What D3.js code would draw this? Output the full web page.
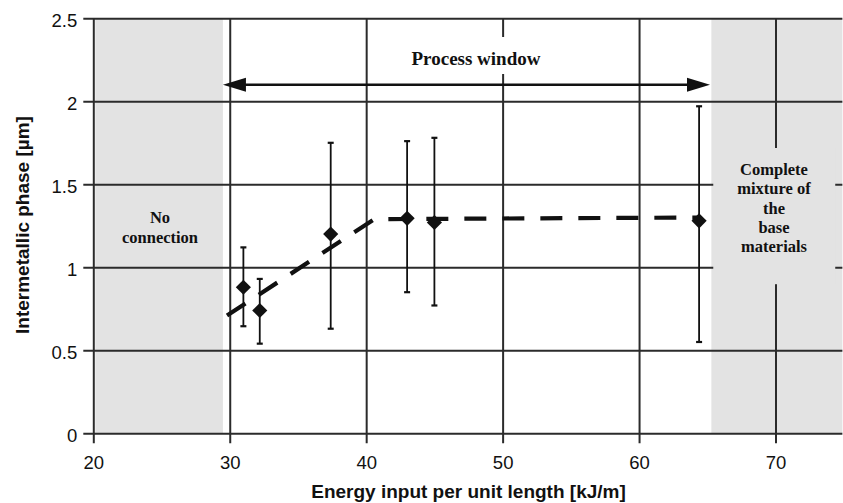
<!DOCTYPE html>
<html><head><meta charset="utf-8">
<script src="https://cdn.jsdelivr.net/npm/d3@7"></script>
<style>body{margin:0;background:#fff}svg{display:block}</style>
</head><body><svg id="c" width="843" height="503"></svg>
<script>
// ---- data ----
const xTicks = [20, 30, 40, 50, 60, 70];
const yTicks = [0, 0.5, 1, 1.5, 2, 2.5];
const energy = [31.0, 32.2, 37.4, 43.0, 45.0, 64.4];
const phase = [0.88, 0.74, 1.20, 1.295, 1.27, 1.28];
const errLow = [0.645, 0.54, 0.63, 0.85, 0.77, 0.55];
const errHigh = [1.12, 0.93, 1.75, 1.76, 1.78, 1.97];
const fitX = [29.8, 40.6, 64.5];
const fitY = [0.71, 1.29, 1.30];
const regionFrom = [20, 65.3];
const regionTo = [29.5, 74.9];
const xMin = 20, xMax = 74.9, yMin = 0, yMax = 2.5;
const windowFrom = 29.5, windowTo = 65.2, windowY = 2.1;
const windowLabel = "Process window";
const leftLabel = ["No", "connection"];
const rightLabel = ["Complete", "mixture of", "the", "base", "materials"];
const xTitle = "Energy input per unit length [kJ/m]";
const yTitle = "Intermetallic phase [µm]";

// ---- scales ----
const x = d3.scaleLinear().domain([20, 70]).range([93.3, 775.5]);
const y = d3.scaleLinear().domain([0, 2.5]).range([433.3, 18.3]);
const svg = d3.select("#c");
const gridColor = "#2b2b2b";

// gray regions
svg.selectAll("rect.region").data(regionFrom).enter().append("rect")
  .attr("class", "region")
  .attr("x", (d, i) => x(d) + (i === 0 ? 2 : 0))
  .attr("width", (d, i) => x(regionTo[i]) - x(d) - (i === 0 ? 2 : 0))
  .attr("y", y(yMax))
  .attr("height", y(yMin) - y(yMax))
  .attr("fill", "#e3e3e3");

// grid (acts as axes with long ticks)
const xAxis = d3.axisBottom(x).tickValues(xTicks).tickSize(y(yMin) - y(yMax) + 10)
  .tickPadding(12.5).tickFormat(d3.format("d"));
const gx = svg.append("g").attr("transform", `translate(0,${y(yMax)})`).call(xAxis);
gx.select(".domain").remove();
gx.selectAll(".tick line").attr("stroke", gridColor).attr("stroke-width", 2);
gx.selectAll(".tick text").attr("font-family", "Liberation Sans, Arial, sans-serif")
  .attr("font-size", 18.5).attr("fill", "#111");

const yAxis = d3.axisLeft(y).tickValues(yTicks).tickSize(10).tickPadding(6)
  .tickFormat(d => String(d));
const gy = svg.append("g").attr("transform", `translate(${x(xMin)},0)`).call(yAxis);
gy.select(".domain").remove();
gy.selectAll(".tick line").attr("x2", -10).attr("x1", x(xMax) - x(xMin))
  .attr("stroke", gridColor).attr("stroke-width", 2);
gy.selectAll(".tick text").attr("font-family", "Liberation Sans, Arial, sans-serif")
  .attr("font-size", 18.5).attr("fill", "#111").attr("dy", "0.42em");

// text boxes that interrupt the gridlines
function labelBlock(lines, cx, firstBaseline, spacing, size, pad, bg) {
  const g = svg.append("g");
  const bgRect = g.append("rect").attr("fill", bg);
  const t = g.append("text").attr("text-anchor", "middle")
    .attr("font-family", "Liberation Serif, 'Times New Roman', serif")
    .attr("font-weight", "bold").attr("font-size", size).attr("fill", "#111");
  lines.forEach((s, i) => t.append("tspan").attr("x", cx)
    .attr("y", firstBaseline + i * spacing).text(s));
  const b = t.node().getBBox();
  bgRect.attr("x", b.x - pad[3]).attr("y", b.y - pad[0])
    .attr("width", b.width + pad[1] + pad[3]).attr("height", b.height + pad[0] + pad[2]);
}
labelBlock([windowLabel], 476, 65, 0, 19, [11, 4, 5, 4], "#fff");
labelBlock(leftLabel, 160, 223, 20, 16.5, [0, 0, 0, 0], "#e3e3e3");
labelBlock(rightLabel, 774, 175, 19.3, 16.5, [12, 24, 28, 24], "#e3e3e3");

// process window arrow
const ay = y(windowY), ax1 = x(windowFrom), ax2 = x(windowTo);
svg.append("line").attr("x1", ax1 + 10).attr("x2", ax2 - 10).attr("y1", ay).attr("y2", ay)
  .attr("stroke", "#111").attr("stroke-width", 2.6);
svg.append("path").attr("d", `M${ax1},${ay}L${ax1 + 23},${ay - 7}L${ax1 + 23},${ay + 7}Z`).attr("fill", "#111");
svg.append("path").attr("d", `M${ax2},${ay}L${ax2 - 23},${ay - 7}L${ax2 - 23},${ay + 7}Z`).attr("fill", "#111");

// fitted dashed line
const fit = fitX.map((d, i) => [d, fitY[i]]);
svg.append("path").attr("d", d3.line().x(d => x(d[0])).y(d => y(d[1]))(fit))
  .attr("fill", "none").attr("stroke", "#111").attr("stroke-width", 4.2)
  .attr("stroke-dasharray", "22 16");

// error bars
const pts = energy.map((d, i) => ({ x: d, y: phase[i], lo: errLow[i], hi: errHigh[i] }));
const eb = svg.append("g").attr("stroke", "#111");
eb.selectAll("line.v").data(pts).enter().append("line")
  .attr("x1", d => x(d.x)).attr("x2", d => x(d.x))
  .attr("y1", d => y(d.lo)).attr("y2", d => y(d.hi)).attr("stroke-width", 1.8);
eb.selectAll("line.hi").data(pts).enter().append("line")
  .attr("x1", d => x(d.x) - 3).attr("x2", d => x(d.x) + 3)
  .attr("y1", d => y(d.hi)).attr("y2", d => y(d.hi)).attr("stroke-width", 2.2);
eb.selectAll("line.lo").data(pts).enter().append("line")
  .attr("x1", d => x(d.x) - 3).attr("x2", d => x(d.x) + 3)
  .attr("y1", d => y(d.lo)).attr("y2", d => y(d.lo)).attr("stroke-width", 2.2);

// diamonds
const diamond = d3.symbol().type(d3.symbolSquare).size(115);
svg.selectAll("path.pt").data(pts).enter().append("path")
  .attr("d", diamond)
  .attr("transform", d => `translate(${x(d.x)},${y(d.y)}) rotate(45)`)
  .attr("fill", "#111");

// axis titles
svg.append("text").attr("x", 468.5).attr("y", 498).attr("text-anchor", "middle")
  .attr("font-family", "Liberation Sans, Arial, sans-serif").attr("font-weight", "bold")
  .attr("font-size", 19).attr("fill", "#111").text(xTitle);
svg.append("text").attr("transform", "translate(29,225) rotate(-90)").attr("text-anchor", "middle")
  .attr("font-family", "Liberation Sans, Arial, sans-serif").attr("font-weight", "bold")
  .attr("font-size", 19).attr("fill", "#111").text(yTitle);
</script></body></html>
